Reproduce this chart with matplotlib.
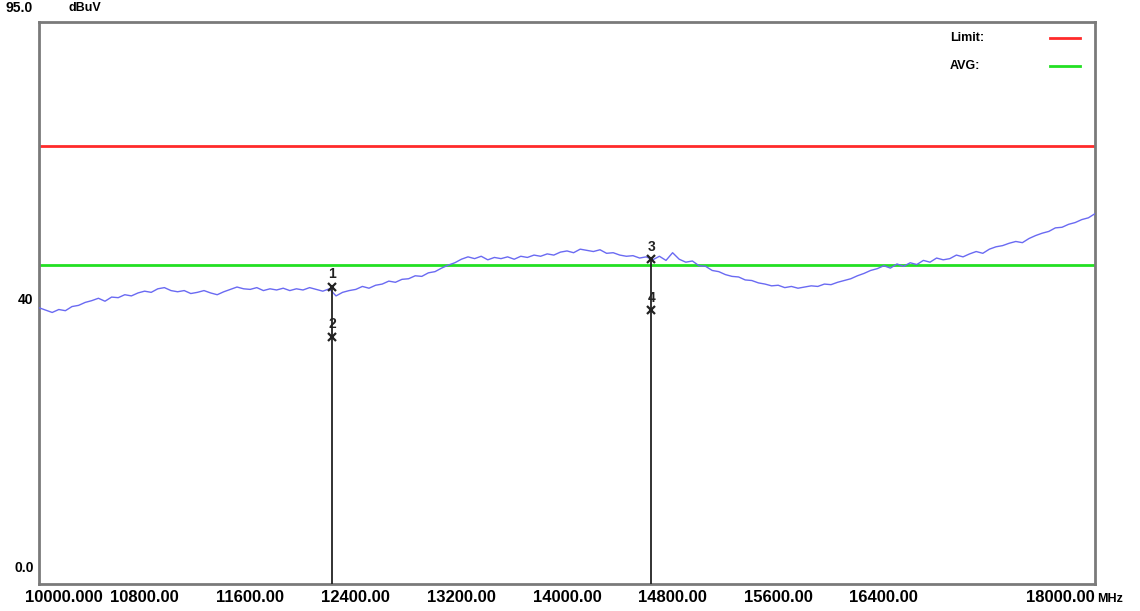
import matplotlib
matplotlib.use("Agg")
import matplotlib.pyplot as plt
import numpy as np
from matplotlib.transforms import ScaledTranslation

# Sweep 10 GHz - 18 GHz in 50 MHz steps, peak trace in dBuV
level_dbuv = [
    46.7, 46.3, 45.9, 46.4, 46.2, 46.9, 47.1, 47.6, 47.9, 48.3,
    47.8, 48.5, 48.4, 48.9, 48.7, 49.2, 49.5, 49.3, 49.9, 50.1,
    49.6, 49.4, 49.6, 49.1, 49.3, 49.6, 49.2, 48.9, 49.4, 49.8,
    50.2, 49.9, 49.8, 50.1, 49.6, 49.9, 49.7, 50.0, 49.6, 49.9,
    49.7, 50.1, 49.8, 49.5, 49.9, 48.7, 49.3, 49.6, 49.8, 50.3,
    50.0, 50.5, 50.7, 51.2, 51.0, 51.5, 51.6, 52.1, 52.0, 52.6,
    52.8, 53.4, 53.9, 54.3, 54.9, 55.3, 55.0, 55.4, 54.8, 55.2,
    55.0, 55.3, 54.9, 55.4, 55.2, 55.6, 55.4, 55.8, 55.6, 56.1,
    56.3, 56.0, 56.6, 56.4, 56.2, 56.5, 55.9, 56.0, 55.6, 55.4,
    55.5, 55.1, 55.3, 54.8, 55.4, 54.7, 56.0, 54.9, 54.4, 54.6,
    53.8, 53.7, 53.0, 52.8, 52.3, 52.0, 51.9, 51.4, 51.3, 50.9,
    50.7, 50.4, 50.5, 50.1, 50.3, 50.0, 50.2, 50.4, 50.3, 50.7,
    50.6, 51.0, 51.3, 51.6, 52.1, 52.5, 53.0, 53.3, 53.8, 53.4,
    54.1, 53.7, 54.3, 54.0, 54.7, 54.4, 55.1, 54.8, 55.0, 55.6,
    55.3, 55.8, 56.2, 55.9, 56.6, 57.0, 57.2, 57.6, 57.9, 57.7,
    58.4, 58.9, 59.3, 59.6, 60.2, 60.3, 60.8, 61.1, 61.6, 61.9,
    62.6,
]
freq_mhz = np.linspace(10000, 18000, len(level_dbuv))

limit_peak = 74.0
limit_avg = 54.0

marker_no = ["1", "2", "3", "4"]
marker_freq = [12220, 12220, 14640, 14640]
marker_level = [50.2, 41.8, 54.9, 46.3]

xtick_pos = [10000, 10800, 11600, 12400, 13200, 14000, 14800, 15600, 16400, 18000]
xtick_lbl = ["10000.000", "10800.00", "11600.00", "12400.00", "13200.00",
             "14000.00", "14800.00", "15600.00", "16400.00", "18000.00"]

plt.rcParams["font.family"] = ["Liberation Sans", "DejaVu Sans"]
plt.rcParams["font.weight"] = "bold"

fig = plt.figure(figsize=(11.4, 6.11), dpi=100)
ax = fig.add_axes([39 / 1140, 27 / 611, 1056 / 1140, 562 / 611])
ax.set_xlim(10000, 18000)
ax.set_ylim(0, 95)

ax.axhline(limit_peak, color="#ff2a2a", lw=2.0, zorder=2)
ax.axhline(limit_avg, color="#22e022", lw=2.0, zorder=2)
ax.plot(freq_mhz, level_dbuv, color="#6a6af2", lw=1.0, zorder=3)

# marker stems down to the x axis
for f in sorted(set(marker_freq)):
    top = max(l for mf, l in zip(marker_freq, marker_level) if mf == f)
    ax.vlines(f, 0, top, color="#222222", lw=1.3, zorder=4)
for n, f, l in zip(marker_no, marker_freq, marker_level):
    ax.plot(f, l, marker="x", color="#222222", ms=6, mew=1.6, zorder=5)
    ax.annotate(n, (f, l), xytext=(0, 4), textcoords="offset points",
                ha="center", va="bottom", fontsize=10, color="#222222")

for side in ax.spines.values():
    side.set_color("#7a7a7a")
    side.set_linewidth(2.0)

ax.set_xticks(xtick_pos)
ax.set_xticklabels(xtick_lbl, fontsize=12, fontweight="bold")
ax.tick_params(axis="x", length=0, pad=4)
ax.set_yticks([])
lbls = ax.get_xticklabels()
lbls[0].set_horizontalalignment("left")
lbls[0].set_transform(lbls[0].get_transform()
                      + ScaledTranslation(-0.14, 0, fig.dpi_scale_trans))
lbls[-1].set_horizontalalignment("right")
ax.text(1.002, -0.026, "MHz", transform=ax.transAxes, fontsize=9,
        ha="left", va="center")

# level annotations on the left
ax.text(-0.032, 1.025, "95.0", transform=ax.transAxes, fontsize=10,
        ha="left", va="center")
ax.text(0.028, 1.025, "dBuV", transform=ax.transAxes, fontsize=9,
        ha="left", va="center")
ax.text(-0.005, 0.505, "40", transform=ax.transAxes, fontsize=10,
        ha="right", va="center")
ax.text(-0.005, 0.028, "0.0", transform=ax.transAxes, fontsize=10,
        ha="right", va="center")

# legend in the upper right corner
for y, name, col in [(0.9715, "Limit:", "#ff2a2a"), (0.9217, "AVG:", "#22e022")]:
    ax.text(0.8627, y, name, transform=ax.transAxes, fontsize=9,
            ha="left", va="center")
    ax.plot([0.957, 0.986], [y, y], transform=ax.transAxes, color=col, lw=2.0)

fig.savefig("out.png", dpi=100)
